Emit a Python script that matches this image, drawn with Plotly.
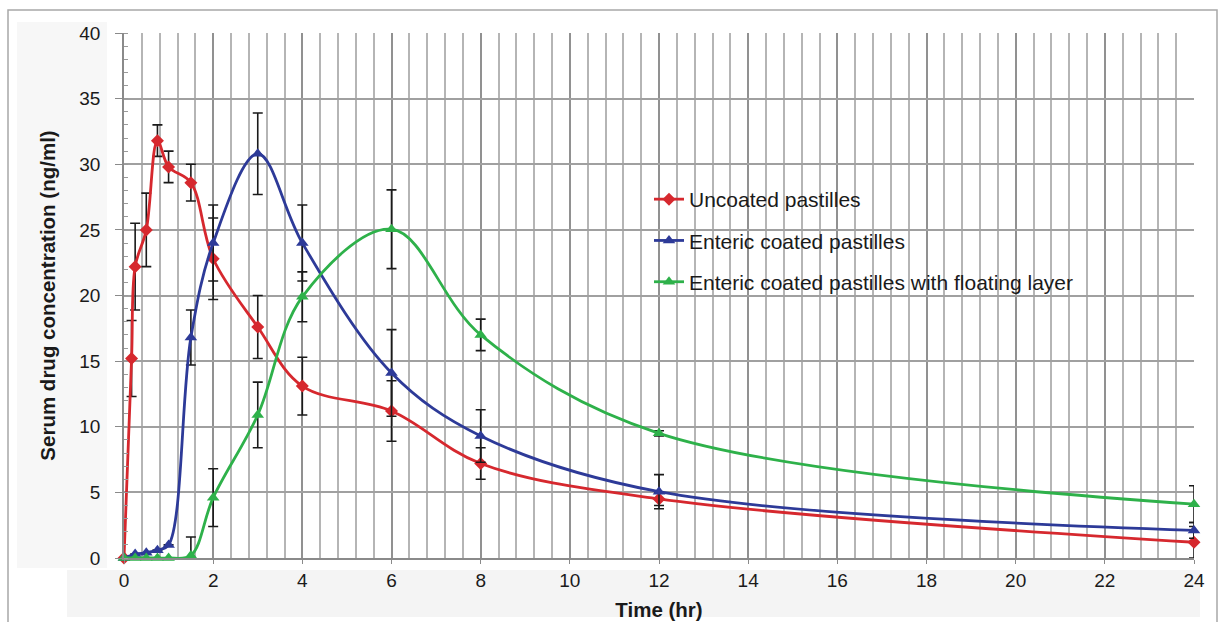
import plotly.graph_objects as go

# ---------------- data ----------------
t_uncoated = [0, 0.17, 0.25, 0.5, 0.75, 1, 1.5, 2, 3, 4, 6, 8, 12, 24]
c_uncoated = [0, 15.2, 22.2, 25.0, 31.8, 29.8, 28.6, 22.8, 17.6, 13.1, 11.2, 7.2, 4.5, 1.2]
e_uncoated = [None, 2.9, 3.3, 2.8, 1.2, 1.2, 1.4, 3.1, 2.4, 2.2, 2.3, 1.2, 0.5, 1.2]

t_enteric = [0, 0.25, 0.5, 0.75, 1, 1.5, 2, 3, 4, 6, 8, 12, 24]
c_enteric = [0, 0.3, 0.4, 0.6, 1.0, 16.8, 24.0, 30.8, 24.0, 14.1, 9.3, 5.05, 2.1]
e_enteric = [None, None, None, None, None, 2.1, 2.9, 3.1, 2.9, 3.3, 2.0, 1.3, 0.6]

t_floating = [0, 0.25, 0.5, 0.75, 1, 1.5, 2, 3, 4, 6, 8, 12, 24]
c_floating = [0, 0, 0, 0, 0, 0.2, 4.6, 10.9, 19.9, 25.05, 17.0, 9.5, 4.1]
e_floating = [None, None, None, None, None, 1.4, 2.2, 2.5, 1.9, 3.0, 1.2, 0.2, 1.4]

series_names = ["Uncoated pastilles", "Enteric coated pastilles",
                "Enteric coated pastilles with floating layer"]
x_tickvals = [0, 2, 4, 6, 8, 10, 12, 14, 16, 18, 20, 22, 24]
y_tickvals = [0, 5, 10, 15, 20, 25, 30, 35, 40]

# ---------------- layout geometry ----------------
W, H = 1221, 622
ML, MR, MT, MB = 124, 27, 33, 64
PW, PH = W - ML - MR, H - MT - MB


def px_x(px):
    return (px - ML) / PW


def px_y(py):
    return (H - MB - py) / PH


FONT = "Arial, 'Liberation Sans', Helvetica, sans-serif"
RED, BLUE, GREEN = "#d6282e", "#2d3a98", "#2eb14a"

fig = go.Figure()

specs = [
    (t_uncoated, c_uncoated, e_uncoated, series_names[0], RED, "diamond", 10),
    (t_enteric, c_enteric, e_enteric, series_names[1], BLUE, "triangle-up", 11),
    (t_floating, c_floating, e_floating, series_names[2], GREEN, "triangle-up", 11),
]
for i, (t, c, e, name, col, sym, ms) in enumerate(specs):
    fig.add_trace(go.Scatter(
        x=t, y=c, name=name, mode="lines+markers",
        legendgroup=f"g{i}",
        line=dict(color=col, width=2.8, shape="spline", smoothing=1.0),
        marker=dict(symbol=sym, size=ms, color=col, line=dict(width=0)),
        error_y=dict(type="data", array=e, visible=True, color="#1a1a1a",
                     thickness=1.6, width=5),
        cliponaxis=False,
    ))

shapes = [
    # faint scan background bands
    dict(type="rect", xref="paper", yref="paper", layer="below",
         x0=px_x(17), x1=px_x(107), y0=px_y(568), y1=px_y(22),
         fillcolor="#f7f7f7", line=dict(width=0)),
    dict(type="rect", xref="paper", yref="paper", layer="below",
         x0=px_x(67), x1=px_x(1200), y0=px_y(617), y1=px_y(570),
         fillcolor="#f4f4f4", line=dict(width=0)),
    # outer frame
    dict(type="rect", xref="paper", yref="paper", layer="below",
         x0=px_x(8), x1=px_x(1217), y0=px_y(640), y1=px_y(10),
         fillcolor="rgba(0,0,0,0)", line=dict(color="#a8a8a8", width=1.5)),
]

fig.update_layout(
    width=W, height=H,
    margin=dict(l=ML, r=MR, t=MT, b=MB, pad=0, autoexpand=False),
    paper_bgcolor="white", plot_bgcolor="white",
    font=dict(family=FONT, color="#1a1a1a"),
    showlegend=True,
    legend=dict(x=px_x(649), y=px_y(179), xanchor="left", yanchor="top",
                bgcolor="rgba(0,0,0,0)", borderwidth=0,
                font=dict(size=21, family=FONT, color="#1a1a1a"),
                traceorder="grouped", tracegroupgap=11),
    shapes=shapes,
    xaxis=dict(
        range=[0, 24], tickmode="array", tickvals=x_tickvals,
        ticks="outside", ticklen=4, tickcolor="#8a8a8a",
        tickfont=dict(size=19, family=FONT, color="#1a1a1a"),
        ticklabelstandoff=0,
        showgrid=True, gridcolor="#919191", gridwidth=1.8,
        minor=dict(dtick=0.4, tick0=0, showgrid=True, gridcolor="#b5b5b5",
                   gridwidth=1.5, ticks=""),
        showline=True, linecolor="#8a8a8a", linewidth=1.5,
        zeroline=False, automargin=False,
        title=dict(text="Time (hr)", standoff=13,
                   font=dict(size=20.5, family=FONT, color="#1a1a1a", weight="bold")),
    ),
    yaxis=dict(
        range=[0, 40], tickmode="array", tickvals=y_tickvals,
        ticks="outside", ticklen=7, tickcolor="#8a8a8a",
        tickfont=dict(size=19, family=FONT, color="#1a1a1a"),
        ticklabelstandoff=11,
        showgrid=True, gridcolor="#a0a0a0", gridwidth=1.8,
        minor=dict(dtick=1, tick0=0, ticks="inside", ticklen=4,
                   tickcolor="#9a9a9a", showgrid=False),
        showline=True, linecolor="#8a8a8a", linewidth=1.5,
        zeroline=False, automargin=False,
        title=dict(text="Serum drug concentration (ng/ml)", standoff=18,
                   font=dict(size=20.5, family=FONT, color="#1a1a1a", weight="bold")),
    ),
)

fig.write_html("out.html", config={"displayModeBar": False},
               post_script="document.body.style.margin='0px';document.body.style.padding='0px';")
